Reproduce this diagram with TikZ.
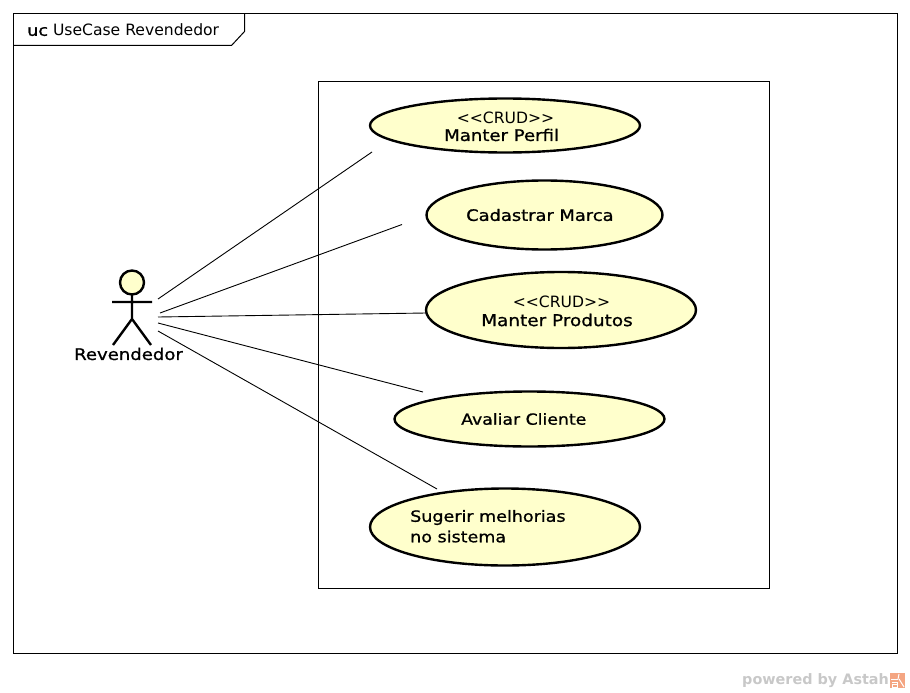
\documentclass[tikz,border=0pt]{standalone}
\usepackage{fontspec}
\setmainfont{DejaVu Sans}
\newfontfamily\medfont[FakeBold=0.9,FakeStretch=1.13]{DejaVu Sans}
\usetikzlibrary{shapes.geometric}
\tikzset{
  x=1pt,y=-1pt,
  frameline/.style={draw=black,line width=1pt},
  usecase/.style={ellipse,draw=black,fill=ucfill,line width=2.4pt,inner sep=0pt,outer sep=0pt},
  assoc/.style={draw=black,line width=0.9pt},
  actorline/.style={draw=black,line width=2.4pt},
  uclabel/.style={font=\medfont\fontsize{#1}{19}\selectfont,anchor=west,inner sep=0pt,align=left},
  uclabel/.default=16,
  stereo/.style={font=\fontsize{15.6}{18}\selectfont,anchor=center,inner sep=0pt},
}
\definecolor{ucfill}{HTML}{FFFFCC}
\definecolor{wm}{HTML}{C8C8C8}
\definecolor{logo}{HTML}{F4A582}
\begin{document}
\begin{tikzpicture}
\useasboundingbox (0,0) rectangle (910,693);
% frame
\node[frameline,minimum width=884pt,minimum height=640pt,inner sep=0pt,outer sep=0pt] (frame) at (455.5,333.5) {};
\draw[frameline] (13.5,45.5) -- (231.5,45.5) -- (244.5,31.5) -- (244.5,13.5);
\node[anchor=west,inner sep=0pt,font=\fontsize{15.6}{18}\selectfont] (title) at (27,30) {{\medfont uc} UseCase Revendedor};
% system boundary
\node[frameline,minimum width=451pt,minimum height=507pt,inner sep=0pt,outer sep=0pt] (sys) at (544,335) {};
% use cases
\node[usecase,minimum width=270pt,minimum height=54pt] (uc1) at (505,125.5) {};
\node[usecase,minimum width=236pt,minimum height=69pt] (uc2) at (544.5,215) {};
\node[usecase,minimum width=270pt,minimum height=76pt] (uc3) at (561,310) {};
\node[usecase,minimum width=270pt,minimum height=55pt] (uc4) at (529.5,419) {};
\node[usecase,minimum width=270pt,minimum height=77pt] (uc5) at (505,527) {};
% labels
\node[stereo] (s1) at (505.5,118) {{<}{<}CRUD{>}{>}};
\node[uclabel] (t1) at (444,135) {Manter Perfil};
\node[uclabel=15.8] (t2) at (466,215) {Cadastrar Marca};
\node[stereo] (s3) at (561.5,302) {{<}{<}CRUD{>}{>}};
\node[uclabel=16.3] (t3) at (481,320) {Manter Produtos};
\node[uclabel=15.3] (t4) at (461,419) {Avaliar Cliente};
\node[uclabel=15.5] (t5a) at (410,517.5) {Sugerir melhorias};
\node[uclabel=15.5] (t5b) at (410,536.5) {no sistema};
% actor
\node[circle,draw=black,fill=ucfill,line width=2.4pt,minimum size=24pt,inner sep=0pt,outer sep=0pt] (head) at (132,282.5) {};
\coordinate (hip) at (132,319);
\coordinate (armL) at (112,302);
\coordinate (armR) at (152,302);
\coordinate (legL) at (113,345);
\coordinate (legR) at (151,345);
\draw[actorline] (head.south) -- (hip) (armL) -- (armR) (legL) -- (hip) -- (legR);
\node[uclabel,anchor=center] (actor) at (128.5,354) {Revendedor};
% associations
\coordinate (a1) at (158,299);
\coordinate (a2) at (160,313);
\coordinate (a3) at (158,317);
\coordinate (a4) at (158,323);
\coordinate (a5) at (158,331);
\coordinate (e1) at (372,152);
\coordinate (e2) at (402,224.5);
\coordinate (e3) at (426,313);
\coordinate (e4) at (423,392);
\coordinate (e5) at (437,489);
\draw[assoc] (a1) -- (e1);
\draw[assoc] (a2) -- (e2);
\draw[assoc] (a3) -- (e3);
\draw[assoc] (a4) -- (e4);
\draw[assoc] (a5) -- (e5);
% watermark
\node[anchor=west,inner sep=0pt,text=wm,font=\fontsize{14.4}{16}\bfseries\selectfont] (wmark) at (742,680.5) {powered by Astah};
\node[fill=logo,minimum size=15pt,inner sep=0pt,outer sep=0pt] (wlogo) at (897.5,680.5) {};
\draw[white,line width=1pt] (wlogo.north west) ++(1,6) -- ++(7,0) (wlogo.north west) ++(2,9) -- ++(5,0) -- ++(0,5) -- ++(-5,0) -- ++(0,-2.5) -- ++(5,0);
\draw[white,line width=1pt] (wlogo.north east) ++(-6,1) -- ++(-1,5) ++(1,0) -- ++(5,8);
\end{tikzpicture}
\end{document}
